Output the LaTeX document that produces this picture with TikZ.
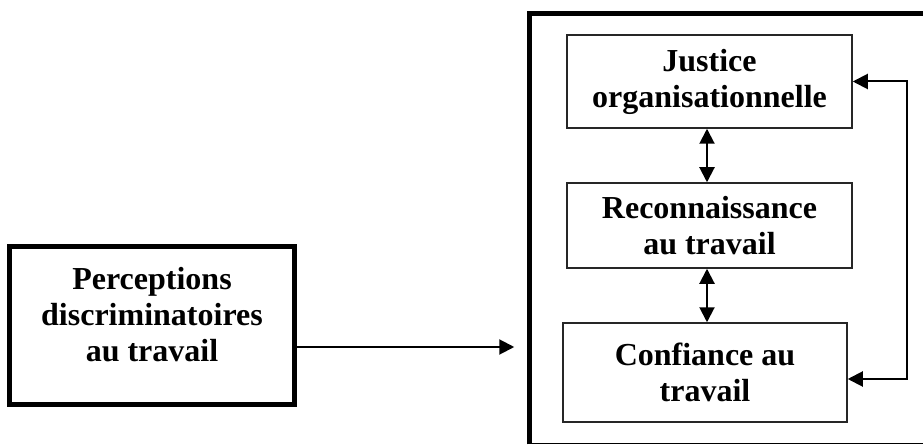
\documentclass[tikz,border=0pt]{standalone}
\usepackage{fontspec}
\setmainfont{Liberation Serif}
\usetikzlibrary{arrows.meta, positioning}

\begin{document}
\begin{tikzpicture}[x=1pt, y=-1pt,
    box/.style={draw=black!85, line width=1.5pt, align=center,
      font=\fontsize{32}{36}\selectfont\bfseries, inner sep=0pt},
    bigbox/.style={box, draw=black, line width=5pt},
    tip/.tip={Triangle[length=15pt, width=15pt]},
    tri/.style={line width=2pt, -tip},
    dbl/.style={line width=2pt, tip-tip}
  ]
  \useasboundingbox (0,0) rectangle (923,446);
  \clip (0,0) rectangle (923,446);

  \node[draw, line width=1.5pt, minimum width=430, minimum height=429,
    inner sep=0pt] (outer) at (745,229) {};
  \draw[line width=5pt] (outer.south west) -- (outer.north west)
    -- (outer.north east);

  \node[bigbox, minimum width=285, minimum height=158, text depth=22pt]
    (disc) at (152,325.5) {Perceptions\\discriminatoires\\au travail};

  \node[box, minimum width=285, minimum height=93] (just) at (709.5,81.5)
    {Justice\\organisationnelle};
  \node[box, minimum width=285, minimum height=85] (reco) at (709.5,225.5)
    {Reconnaissance\\au travail};
  \node[box, minimum width=284, minimum height=99] (conf) at (705,372.5)
    {Confiance au\\travail};
  \coordinate (fb) at (907,230);

  \draw[tri, shorten >=15pt] (disc.east |- 0,347) -- (outer.west |- 0,347);
  \draw[dbl] ([xshift=-2.5]just.south) -- ([xshift=-2.5]reco.north);
  \draw[dbl] ([xshift=-2.5]reco.south) -- ([xshift=-2.5]reco.south |- conf.north);
  \draw[dbl] (just.east) -| (fb) |- (conf.east |- 0,379);
\end{tikzpicture}
\end{document}
